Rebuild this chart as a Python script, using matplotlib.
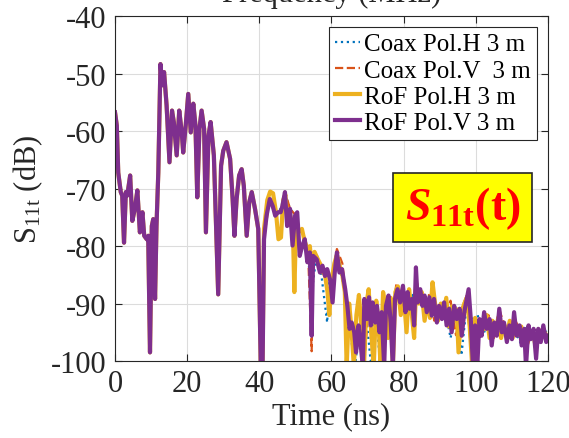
import matplotlib
matplotlib.use('Agg')
import matplotlib.pyplot as plt
from matplotlib.patches import Rectangle

plt.rcParams['font.family'] = ['Liberation Serif', 'DejaVu Serif']
plt.rcParams['mathtext.fontset'] = 'custom'
plt.rcParams['mathtext.rm'] = 'Liberation Serif'
plt.rcParams['mathtext.it'] = 'Liberation Serif:italic'
plt.rcParams['mathtext.bf'] = 'Liberation Serif:bold'
plt.rcParams['mathtext.bfit'] = 'Liberation Serif:italic:bold'
plt.rcParams['axes.unicode_minus'] = False

# shared part of all four curves (they overlap up to ~40 ns)
t_early = [0.0, 0.5, 0.9, 1.6, 2.0, 2.5, 3.0, 3.4, 4.2, 4.8, 5.5, 6.2, 6.9, 7.6, 8.1, 8.8,
           9.2, 9.7, 10.2, 10.6, 11.1, 11.5, 12.0, 12.6, 13.1, 13.6, 14.3, 15.1, 15.8, 16.3,
           17.1, 17.8, 18.5, 18.9, 19.6, 20.3, 21.0, 21.7, 22.3, 22.8, 23.4, 24.0, 24.7,
           25.2, 25.9, 26.5, 27.4, 28.6, 29.4, 30.0, 30.9, 31.9, 32.6, 33.1, 33.7, 34.4,
           35.1, 35.7, 36.5, 37.2, 37.9, 38.8, 39.7]
s_early = [-56.7, -59.0, -67.2, -70.6, -71.2, -79.4, -70.6, -71.2, -67.7, -75.6, -73.5, -70.3,
           -77.6, -74.1, -78.2, -78.8, -78.2, -98.5, -76.5, -75.3, -89.2, -76.5, -67.2, -48.3,
           -52.0, -49.7, -55.5, -65.4, -56.4, -58.4, -64.2, -56.4, -60.2, -63.7, -59.0, -53.5,
           -60.2, -55.2, -59.0, -71.5, -59.6, -56.4, -59.6, -77.6, -60.8, -58.4, -64.2, -88.4,
           -66.0, -63.4, -61.9, -64.8, -71.8, -78.2, -71.8, -67.7, -66.6, -69.5, -78.2, -72.4,
           -70.6, -73.5, -77.0]

# RoF Pol.V tail
t_rv = [40.4, 40.9, 41.3, 42.0, 42.9, 43.7, 44.4, 45.2, 45.9, 46.4, 47.1, 47.7, 48.5, 49.2,
        49.9, 50.5, 51.2, 51.9, 52.6, 53.3, 54.0, 54.5, 54.9, 55.9, 56.8, 57.5, 58.2, 58.8,
        59.6, 60.3, 60.9, 61.5, 62.2, 62.9, 63.8, 64.4, 65.0, 65.6, 66.3, 66.8, 67.5, 68.1,
        68.7, 69.1, 69.8, 70.4, 70.9, 71.4, 72.1, 72.6, 73.3, 73.9, 74.6, 75.1, 75.8, 76.4,
        77.0, 77.6, 78.3, 79.0, 79.8, 80.5, 81.1, 81.6, 82.3, 82.9, 83.4, 83.9, 84.6, 85.2,
        85.8, 86.4, 87.1, 87.8, 88.4, 89.2, 89.8, 90.6, 91.2, 91.9, 92.6, 93.3, 94.0, 94.7,
        95.5, 96.1, 96.8, 97.5, 98.0, 98.6, 99.2, 99.8, 100.4, 101.0, 101.6, 102.3, 103.0,
        103.8, 104.4, 105.1, 105.8, 106.5, 107.2, 107.8, 108.6, 109.3, 110.0, 110.6, 111.3,
        112.1, 112.7, 113.4, 113.9, 114.6, 115.2, 116.0, 116.7, 117.3, 118.0, 118.7, 119.5,
        120.0]
s_rv = [-101.0, -101.0, -78.8, -74.7, -71.8, -73.0, -74.7, -74.1, -74.1, -73.0, -70.6, -76.5,
        -73.5, -79.9, -74.7, -74.1, -81.7, -79.9, -78.8, -82.8, -81.1, -95.6, -81.7, -82.3,
        -84.6, -83.4, -85.2, -84.0, -85.8, -89.8, -84.6, -81.1, -84.6, -84.0, -87.5, -90.4,
        -94.4, -93.3, -95.0, -98.5, -93.8, -97.3, -101.0, -89.2, -92.7, -88.9, -93.8, -89.8,
        -93.3, -90.4, -95.0, -91.5, -101.0, -90.4, -88.6, -93.3, -101.0, -89.2, -87.5, -89.8,
        -86.9, -91.5, -88.0, -90.9, -89.2, -93.8, -83.7, -89.8, -87.5, -90.4, -88.6, -91.5,
        -88.9, -92.1, -89.2, -93.3, -90.4, -92.7, -89.8, -93.8, -90.9, -95.0, -90.4, -92.7,
        -90.9, -95.6, -91.5, -89.2, -87.5, -92.7, -101.0, -93.8, -101.0, -92.7, -95.6, -91.5,
        -94.4, -92.7, -97.3, -93.3, -95.6, -90.9, -95.0, -93.3, -96.7, -93.8, -96.2, -91.5,
        -95.6, -93.8, -97.3, -94.4, -101.0, -93.8, -96.2, -94.4, -99.6, -94.4, -96.7, -93.8,
        -96.7, -95.6]

# RoF Pol.H tail
t_rh = [40.4, 40.9, 41.3, 42.2, 43.0, 43.8, 44.6, 45.3, 46.0, 46.6, 47.2, 47.9, 48.5, 49.3,
        49.7, 50.2, 51.0, 51.8, 52.5, 53.3, 54.0, 54.6, 55.3, 56.0, 56.8, 57.5, 58.2, 58.9,
        59.4, 60.0, 60.8, 61.5, 62.3, 63.0, 63.7, 64.2, 64.9, 65.6, 66.2, 66.9, 67.6, 68.3,
        69.0, 69.7, 70.3, 71.0, 71.7, 72.4, 73.0, 73.6, 74.3, 75.0, 75.7, 76.4, 77.0, 77.7,
        78.4, 79.2, 80.0, 80.8, 81.5, 82.2, 82.9, 83.5, 84.2, 85.0, 85.8, 86.5, 87.3, 88.0,
        88.7, 89.5, 90.3, 91.0, 91.8, 92.5, 93.3, 94.0, 94.7, 95.2, 96.0, 96.8, 97.5, 98.3,
        99.0, 99.8, 100.6, 101.4, 102.2, 103.0, 103.8, 104.6, 105.4, 106.2, 107.0, 107.8,
        108.6, 109.4, 110.2, 111.0, 111.8, 112.6, 113.4, 114.2, 115.0, 115.8, 116.6, 117.4,
        118.2, 119.0, 120.0]
s_rh = [-101.0, -100.0, -77.0, -72.0, -70.5, -70.8, -74.0, -78.8, -78.5, -72.0, -71.0,
        -76.0, -74.5, -77.0, -88.0, -76.0, -77.5, -77.0, -79.0, -80.5, -80.0, -84.0, -81.0,
        -82.0, -83.0, -84.5, -85.0, -88.0, -92.0, -86.0, -83.0, -81.5, -83.5, -85.0, -88.0,
        -101.0, -90.0, -95.0, -101.0, -92.0, -88.5, -94.0, -101.0, -90.0, -87.5, -95.0, -101.0,
        -89.5, -93.0, -101.0, -88.0, -91.0, -96.0, -89.0, -101.0, -88.0, -87.0, -92.0, -88.5,
        -95.0, -87.5, -91.5, -96.0, -86.5, -90.0, -88.0, -93.0, -89.5, -92.5, -86.3, -90.0,
        -93.0, -90.0, -92.0, -89.0, -94.0, -90.5, -93.0, -91.0, -98.5, -91.5, -90.0, -89.0,
        -94.0, -101.0, -92.5, -96.0, -93.0, -94.5, -92.0, -96.0, -93.0, -95.0, -92.5, -96.0,
        -93.5, -95.5, -93.0, -96.0, -94.0, -95.5, -94.0, -97.0, -94.5, -96.0, -95.0, -97.5,
        -94.5, -96.0, -95.0, -96.0]

# Coax Pol.H tail
t_ch = [40.4, 41.3, 42.9, 44.4, 45.9, 47.1, 48.5, 49.9, 51.2, 52.6, 53.5, 54.5, 55.9, 57.0,
        58.8, 59.4, 60.9, 62.3, 63.8, 65.0, 66.5, 68.0, 69.6, 71.0, 72.2, 73.5, 75.0, 76.5,
        78.0, 79.5, 81.0, 82.5, 84.0, 85.5, 87.0, 88.5, 90.0, 91.5, 93.0, 94.5, 96.0, 97.5,
        99.0, 100.5, 102.0, 103.5, 105.0, 106.5, 108.0, 109.5, 111.0, 112.5, 114.0, 115.5,
        117.0, 118.5, 120.0]
s_ch = [-101.0, -78.0, -71.5, -74.5, -73.5, -70.8, -73.5, -74.5, -81.0, -79.0, -82.0, -88.0,
        -81.5, -84.0, -93.3, -86.0, -83.5, -84.0, -88.0, -94.0, -101.0, -93.0, -92.0, -101.0,
        -90.0, -101.0, -89.5, -92.0, -88.0, -89.0, -93.0, -88.5, -88.5, -91.0, -89.5, -92.0,
        -90.5, -91.0, -96.0, -91.0, -99.0, -90.0, -93.0, -92.0, -95.5, -93.0, -94.0, -93.5,
        -95.0, -95.5, -95.0, -97.0, -94.0, -95.0, -96.5, -94.0, -95.5]

# Coax Pol.V tail
t_cv = [40.4, 41.3, 42.9, 44.4, 45.9, 47.1, 48.5, 49.9, 51.2, 52.6, 53.5, 54.5, 55.0, 56.0,
        57.5, 58.8, 60.0, 61.5, 63.0, 64.5, 66.0, 67.5, 69.0, 70.5, 72.0, 73.5, 75.0, 76.5,
        78.0, 79.5, 81.0, 82.5, 84.0, 85.5, 87.0, 88.5, 90.0, 91.5, 93.0, 94.5, 96.0, 97.5,
        99.0, 100.5, 102.0, 103.5, 105.0, 106.5, 108.0, 109.5, 111.0, 112.5, 114.0, 115.5,
        117.0, 118.5, 120.0]
s_cv = [-101.0, -78.5, -72.0, -74.5, -74.0, -70.5, -73.5, -74.5, -81.5, -78.5, -81.0, -98.3,
        -82.0, -82.5, -83.5, -84.5, -86.0, -80.5, -83.0, -91.0, -95.0, -94.0, -101.0, -89.0,
        -92.5, -95.0, -90.0, -93.0, -86.5, -90.0, -88.0, -91.0, -88.0, -90.5, -88.5, -93.0,
        -90.0, -92.0, -89.5, -95.5, -91.0, -88.5, -101.0, -93.0, -94.0, -92.0, -96.0, -91.0,
        -94.0, -96.0, -93.0, -95.0, -98.0, -95.0, -97.0, -94.0, -96.0]

labels = ['Coax Pol.H 3 m', 'Coax Pol.V  3 m', 'RoF Pol.H 3 m', 'RoF Pol.V 3 m']

fig = plt.figure(figsize=(5.69, 4.39), dpi=100)
ax = fig.add_axes([0.2021, 0.1754, 0.761, 0.785])

ax.plot(t_early + t_ch, s_early + s_ch, ':', color='#0072BD', lw=1.6, label=labels[0])
ax.plot(t_early + t_cv, s_early + s_cv, '--', color='#D95319', lw=1.6, label=labels[1])
ax.plot(t_early + t_rh, s_early + s_rh, '-', color='#EDB120', lw=3.0, label=labels[2])
ax.plot(t_early + t_rv, s_early + s_rv, '-', color='#7E2F8E', lw=3.0, label=labels[3])

ax.set_xlim(0, 120)
ax.set_ylim(-100, -40)
ax.set_xticks(range(0, 121, 20))
ax.set_yticks(range(-100, -39, 10))
ax.grid(True, color='#dcdcdc', lw=0.8)
ax.set_axisbelow(True)
ax.tick_params(direction='in', length=5, labelsize=22, colors='#262626',
               top=True, right=True, pad=6)
for sp in ax.spines.values():
    sp.set_color('#262626')
    sp.set_linewidth(0.8)

ax.set_xlabel('Time (ns)', fontsize=22, color='#262626', labelpad=2)
ax.set_ylabel(r'S$_{\rm 11t}$ (dB)', fontsize=22, color='#262626', labelpad=4)
ax.set_title('Frequency (MHz)', fontsize=22, color='#262626', pad=11)

leg = ax.legend(loc='upper right', bbox_to_anchor=(0.975, 0.97), fontsize=18,
                fancybox=False, framealpha=1, edgecolor='#262626', handlelength=1.0,
                handletextpad=0.15, labelspacing=0.15, borderpad=0.25, borderaxespad=0)
leg.get_frame().set_linewidth(0.8)

ax.add_patch(Rectangle((0.642, 0.345), 0.321, 0.201, transform=ax.transAxes,
                       facecolor='yellow', edgecolor='#262626', lw=1.2, zorder=5))
ax.text(0.8025, 0.445, r'$\mathbfit{S}_{\mathbf{11t}}\mathbf{(t)}$', transform=ax.transAxes,
        fontsize=33, color='red', ha='center', va='center', zorder=6)

fig.savefig('out.png', dpi=100)
